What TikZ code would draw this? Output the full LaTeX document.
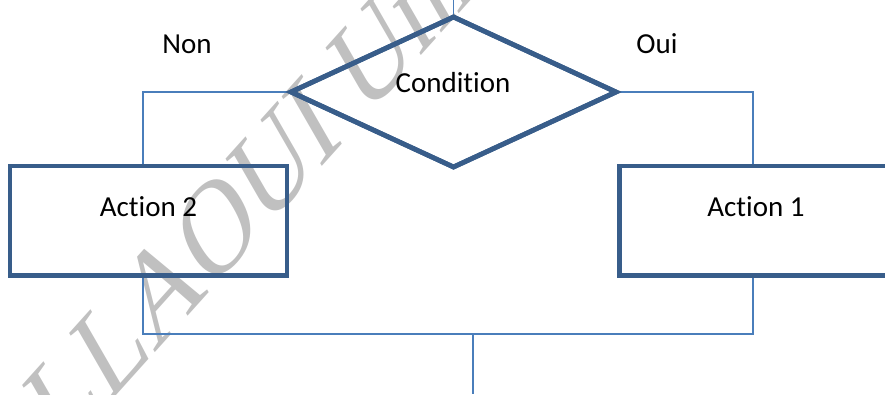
\documentclass[tikz,border=0pt]{standalone}
\usepackage{fontspec}
\setmainfont[Ligatures=NoCommon]{Carlito}
\newfontfamily\wmfont{Liberation Serif}
\usetikzlibrary{shapes.geometric}
\definecolor{boxblue}{HTML}{385D8A}
\definecolor{lineblue}{HTML}{4A7EBB}
\definecolor{wmgrey}{HTML}{C0C0C0}
\tikzset{
  shapebox/.style={draw=boxblue, line width=4.8pt, line join=miter, inner sep=0pt},
  conn/.style={draw=lineblue, line width=1.5pt},
  lbl/.style={font=\fontsize{29}{34}\selectfont, anchor=base, inner sep=0pt, text=black},
  watermark/.style={font=\wmfont\fontsize{98}{104}\selectfont, text=wmgrey, yscale=1.39, rotate=38.7, inner sep=0pt}
}
\begin{document}
\begin{tikzpicture}[x=1pt,y=-1pt]
\useasboundingbox (0,0) rectangle (885,394);
\clip (0,0) rectangle (885,394);
% watermark
\node[watermark] (wm) at (250,190) {LLAOUI Uni};
% shapes
\node[shapebox, diamond, minimum width=327pt, minimum height=152pt] (cond) at (453.5,92) {};
\node[shapebox, rectangle, minimum width=277pt, minimum height=109.5pt] (a2) at (148.5,220.75) {};
\node[shapebox, rectangle, minimum width=273pt, minimum height=109.5pt] (a1) at (756,220.75) {};
% coordinates
\coordinate (in) at (453.5,0);
\coordinate (jl) at (143,92);
\coordinate (jr) at (753,92);
\coordinate (bl) at (143,334);
\coordinate (br) at (753,334);
\coordinate (jm) at (473,334);
\coordinate (out) at (473,394);
% connectors
\draw[conn] (in) -- (cond.north);
\draw[conn] (cond.west) -- (jl) -- (jl |- a2.north);
\draw[conn] (cond.east) -- (jr) -- (jr |- a1.north);
\draw[conn] (jl |- a2.south) -- (bl) -- (br) -- (jr |- a1.south);
\draw[conn] (jm) -- (out);
% redraw shapes on top of connectors
\node[shapebox, diamond, minimum width=327pt, minimum height=152pt] at (cond) {};
\node[shapebox, rectangle, minimum width=277pt, minimum height=109.5pt] at (a2) {};
\node[shapebox, rectangle, minimum width=273pt, minimum height=109.5pt] at (a1) {};
% labels
\node[lbl] (tcond) at (453,92) {Condition};
\node[lbl] (ta2) at (148.5,216) {Action 2};
\node[lbl] (ta1) at (756,216) {Action 1};
\node[lbl] (tnon) at (187,53) {Non};
\node[lbl] (toui) at (657,53) {Oui};
\end{tikzpicture}
\end{document}
